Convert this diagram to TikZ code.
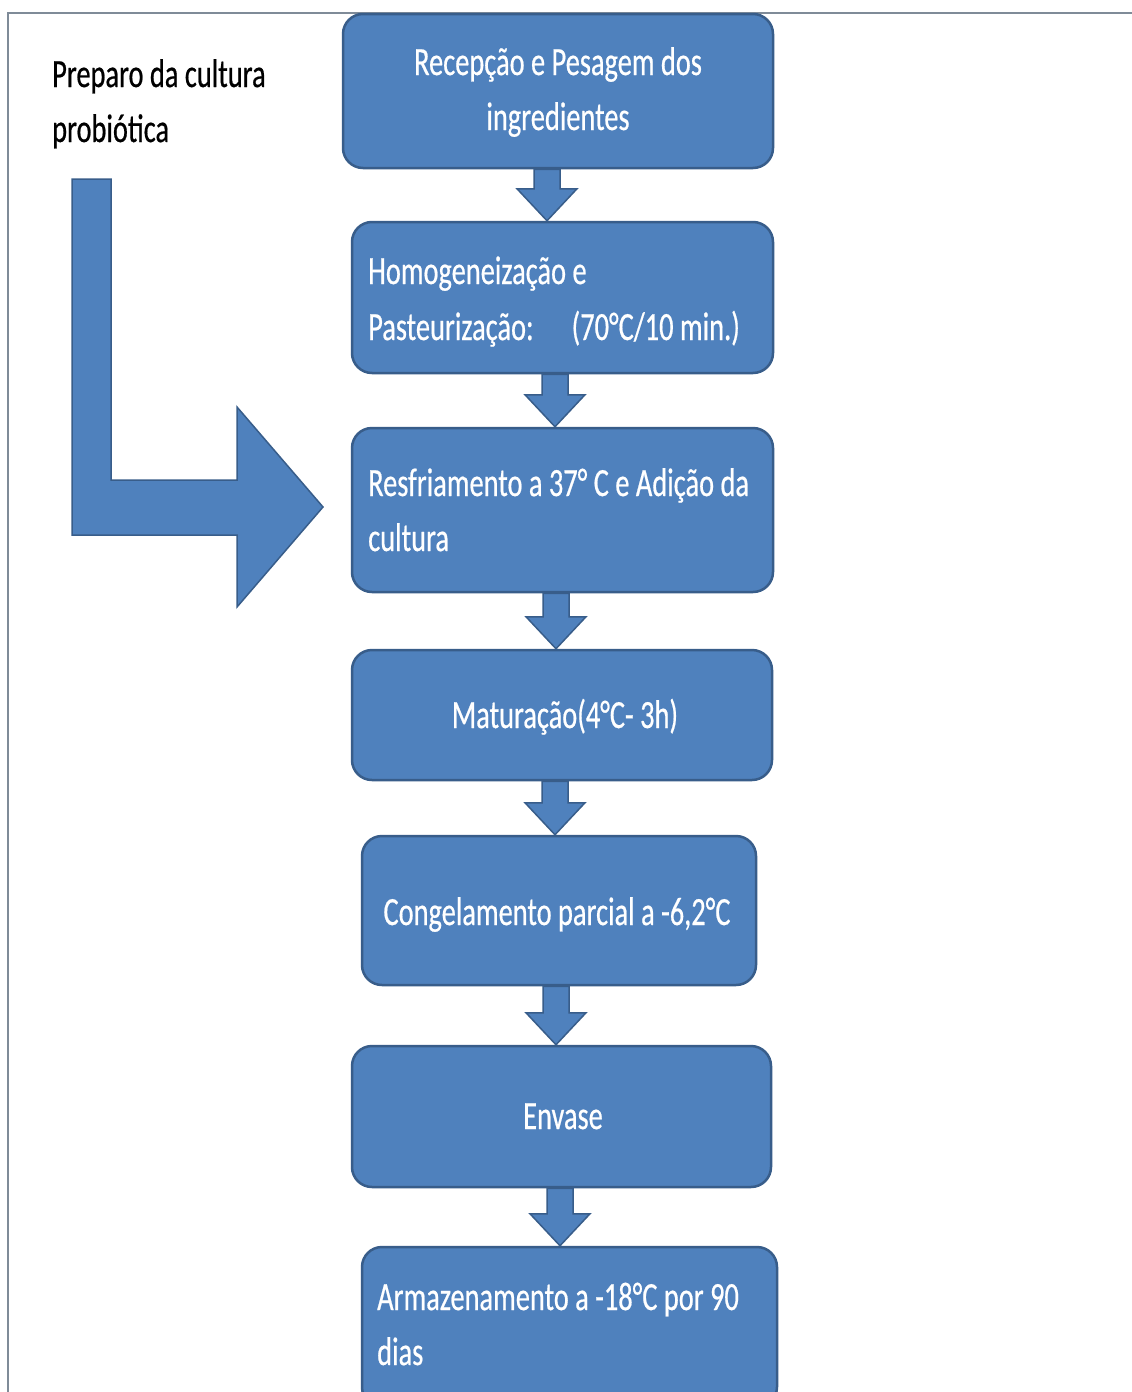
\documentclass[tikz,border=0pt]{standalone}
\usepackage{fontspec}
\setmainfont{Carlito}[FakeStretch=0.71,FakeBold=0.5]
\usetikzlibrary{calc}
\definecolor{boxfill}{HTML}{4F81BD}
\definecolor{boxline}{HTML}{385D8A}
\definecolor{framecol}{HTML}{7F8B98}
\newcommand\flowarrow[3]{%
  \path (#3,0) coordinate (ax);
  \draw[blockarrow] let \p1=(ax |- #1.south), \p2=(ax |- #2.north) in
    (\x1-13pt,\y1) -- (\x1+13pt,\y1) -- (\x1+13pt,\y2+32pt) -- (\x1+30pt,\y2+32pt)
    -- (\x1,\y2) -- (\x1-30pt,\y2+32pt) -- (\x1-13pt,\y2+32pt) -- cycle;
}
\begin{document}
\begin{tikzpicture}[x=1pt,y=-1pt,
  stepbox/.style={draw=boxline, line width=2.5pt, fill=boxfill, rounded corners=20pt, inner sep=0pt},
  blockarrow/.style={draw=boxline, line width=1.5pt, fill=boxfill, line join=miter},
  boxtext/.style={text=white, font=\fontsize{40}{56}\selectfont, inner sep=0pt},
  plaintext/.style={text=black, font=\fontsize{40}{56}\selectfont, inner sep=0pt, anchor=base west}]
\clip (0,0) rectangle (1132,1392);
\fill[white] (0,0) rectangle (1132,1392);
% frame
\draw[framecol, line width=1.5pt] (1140,13) -- (8,13) -- (8,1400);
% left label
\node[plaintext] (p1) at (52,87) {Preparo da cultura};
\node[plaintext] (p2) at (52,142) {probiótica};
% bent arrow
\draw[blockarrow] (72,179) -- (111,179) -- (111,480) -- (237,480) -- (237,407) -- (323,507)
  -- (237,607) -- (237,535) -- (72,535) -- cycle;
% boxes
\node[stepbox, minimum width=430, minimum height=154] (b1) at (558,91) {};
\node[stepbox, minimum width=421, minimum height=151] (b2) at (562.5,297.5) {};
\node[stepbox, minimum width=421, minimum height=164] (b3) at (562.5,510) {};
\node[stepbox, minimum width=420, minimum height=130] (b4) at (562,715) {};
\node[stepbox, minimum width=394, minimum height=149] (b5) at (559,910.5) {};
\node[stepbox, minimum width=419, minimum height=141] (b6) at (561.5,1116.5) {};
\node[stepbox, minimum width=415, minimum height=160] (b7) at (569.5,1327) {};
% texts
\node[boxtext, anchor=base] (t1a) at (558,75) {Recepção e Pesagem dos};
\node[boxtext, anchor=base] (t1b) at (558,130) {ingredientes};
\node[boxtext, anchor=base west] (t2a) at (368,284) {Homogeneização e};
\node[boxtext, anchor=base west] (t2b) at (368,340) {Pasteurização:\hspace{38pt}(70°C/10 min.)};
\node[boxtext, anchor=base west] (t3a) at (368,496) {Resfriamento a 37° C e Adição da};
\node[boxtext, anchor=base west] (t3b) at (368,551) {cultura};
\node[boxtext, anchor=base] (t4) at (565,728) {Maturação(4°C- 3h)};
\node[boxtext, anchor=base] (t5) at (557,925) {Congelamento parcial a -6,2°C};
\node[boxtext, anchor=base] (t6) at (563,1129) {Envase};
\node[boxtext, anchor=base west] (t7a) at (377,1310) {Armazenamento a -18°C por 90};
\node[boxtext, anchor=base west] (t7b) at (377,1365) {dias};
% arrows
\flowarrow{b1}{b2}{547}
\flowarrow{b2}{b3}{555}
\flowarrow{b3}{b4}{556}
\flowarrow{b4}{b5}{555}
\flowarrow{b5}{b6}{556}
\flowarrow{b6}{b7}{560}
\end{tikzpicture}
\end{document}
